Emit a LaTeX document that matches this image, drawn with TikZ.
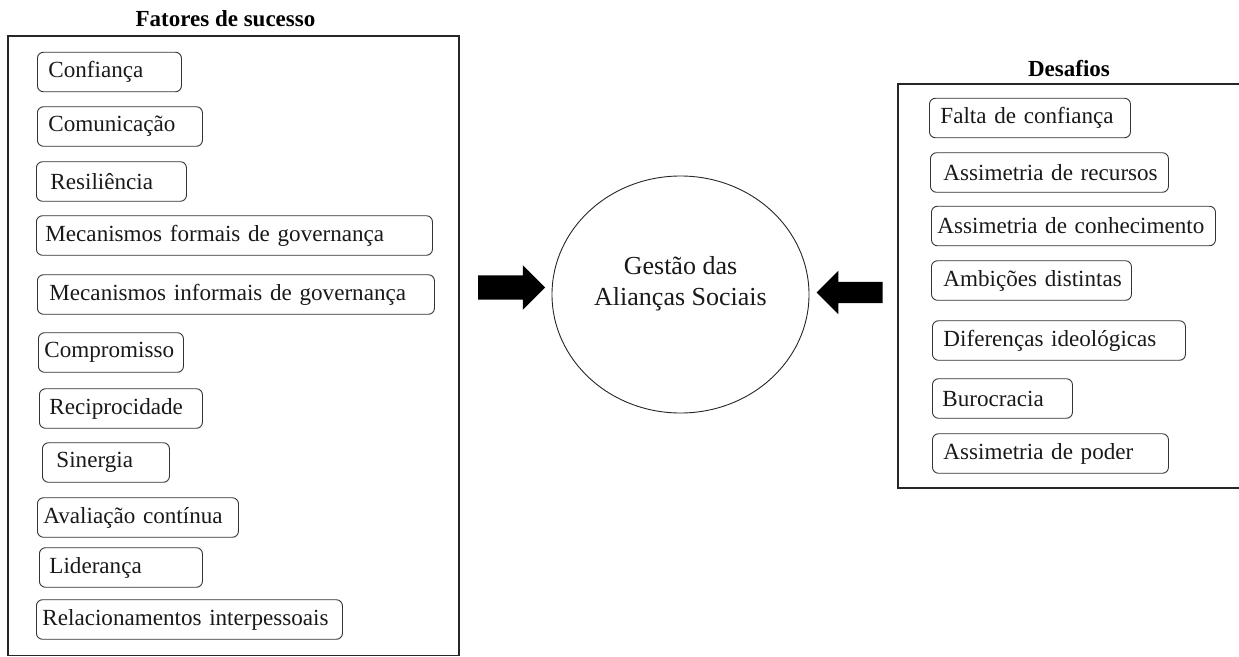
\documentclass[tikz,border=0pt]{standalone}
\usepackage{fontspec}
\setmainfont{Liberation Serif}
\usetikzlibrary{shapes.geometric,shapes.arrows}

\tikzset{
  itembox/.style={draw=black!80, line width=0.9pt, rounded corners=6pt, anchor=west,
    inner xsep=#1, inner ysep=0pt, minimum height=39.5pt, align=left,
    text=black!90, font=\fontsize{23.1}{27}\selectfont,
    execute at begin node=\hbox\bgroup, execute at end node=\egroup},
  itembox/.default=9pt,
  groupframe/.style={draw=black!85, line width=1.2pt},
  grouptitle/.style={anchor=base, font=\fontsize{23}{27}\selectfont\bfseries},
  blockarrow/.style={single arrow, fill=black, draw=none, inner xsep=0pt,
    single arrow tip angle=90}
}

\begin{document}
\begin{tikzpicture}[x=1pt, y=-1pt]
    \useasboundingbox (0,0) rectangle (1239,656);

    % fatores de sucesso
    \draw[groupframe] (8,36) rectangle (459,655.5);
    \node[grouptitle] (titlefatores) at (225.5,26) {Fatores de sucesso};

    \node[itembox=11pt, text width=122pt] (confianca) at (37,72) {Confiança};
    \node[itembox=11pt, text width=143pt] (comunicacao) at (37,126.5) {Comunicação};
    \node[itembox=14pt, text width=122pt] (resiliencia) at (36,181.5) {Resiliência};
    \node[itembox=9pt, text width=378pt] (mecformais) at (36,235.5) {Mecanismos formais de governança};
    \node[itembox=12pt, text width=373pt] (mecinformais) at (37,294.5) {Mecanismos informais de governança};
    \node[itembox=6pt, text width=133pt] (compromisso) at (38,352.5) {Compromisso};
    \node[itembox=10pt, text width=143pt] (reciprocidade) at (39,408.5) {Reciprocidade};
    \node[itembox=14pt, text width=99pt] (sinergia) at (42,462.5) {Sinergia};
    \node[itembox=6pt, text width=189pt] (avaliacao) at (37,517.5) {Avaliação contínua};
    \node[itembox=10pt, text width=143pt] (lideranca) at (39,567.5) {Liderança};
    \node[itembox=6pt, text width=294pt] (relacionamentos) at (36,619.5) {Relacionamentos interpessoais};

    % centro
    \node[ellipse, draw=black!85, line width=0.9pt, minimum width=257pt, minimum height=237pt] (gestao) at (680.5,294.5) {};
    \node[align=center, font=\fontsize{26}{31}\selectfont, text=black!90] (gestaotxt) at (680.5,283.5) {Gestão das\\Alianças Sociais};

    \node[blockarrow, minimum height=67pt, inner ysep=12pt, single arrow head extend=10pt] (arrowfatores) at (505.5,287.5) {};
    \node[blockarrow, minimum height=66pt, inner ysep=10.5pt, single arrow head extend=11pt, shape border rotate=180] (arrowdesafios) at (855,292.5) {};

    % desafios
    \draw[groupframe] (898,84) rectangle (1245,488);
    \node[grouptitle] (titledesafios) at (1069,76) {Desafios};

    \node[itembox=11pt, text width=179pt] (faltaconf) at (929,118) {Falta de confiança};
    \node[itembox=13pt, text width=212pt] (assimrec) at (930,172.5) {Assimetria de recursos};
    \node[itembox=6pt, text width=272pt] (assimcon) at (931,226) {Assimetria de conhecimento};
    \node[itembox=12pt, text width=176pt] (ambicoes) at (931,280.5) {Ambições distintas};
    \node[itembox=11pt, text width=231pt] (diferencas) at (932,340.5) {Diferenças ideológicas};
    \node[itembox=10pt, text width=120pt] (burocracia) at (932,398.5) {Burocracia};
    \node[itembox=11pt, text width=214pt] (assimpod) at (932,453.5) {Assimetria de poder};
\end{tikzpicture}
\end{document}
